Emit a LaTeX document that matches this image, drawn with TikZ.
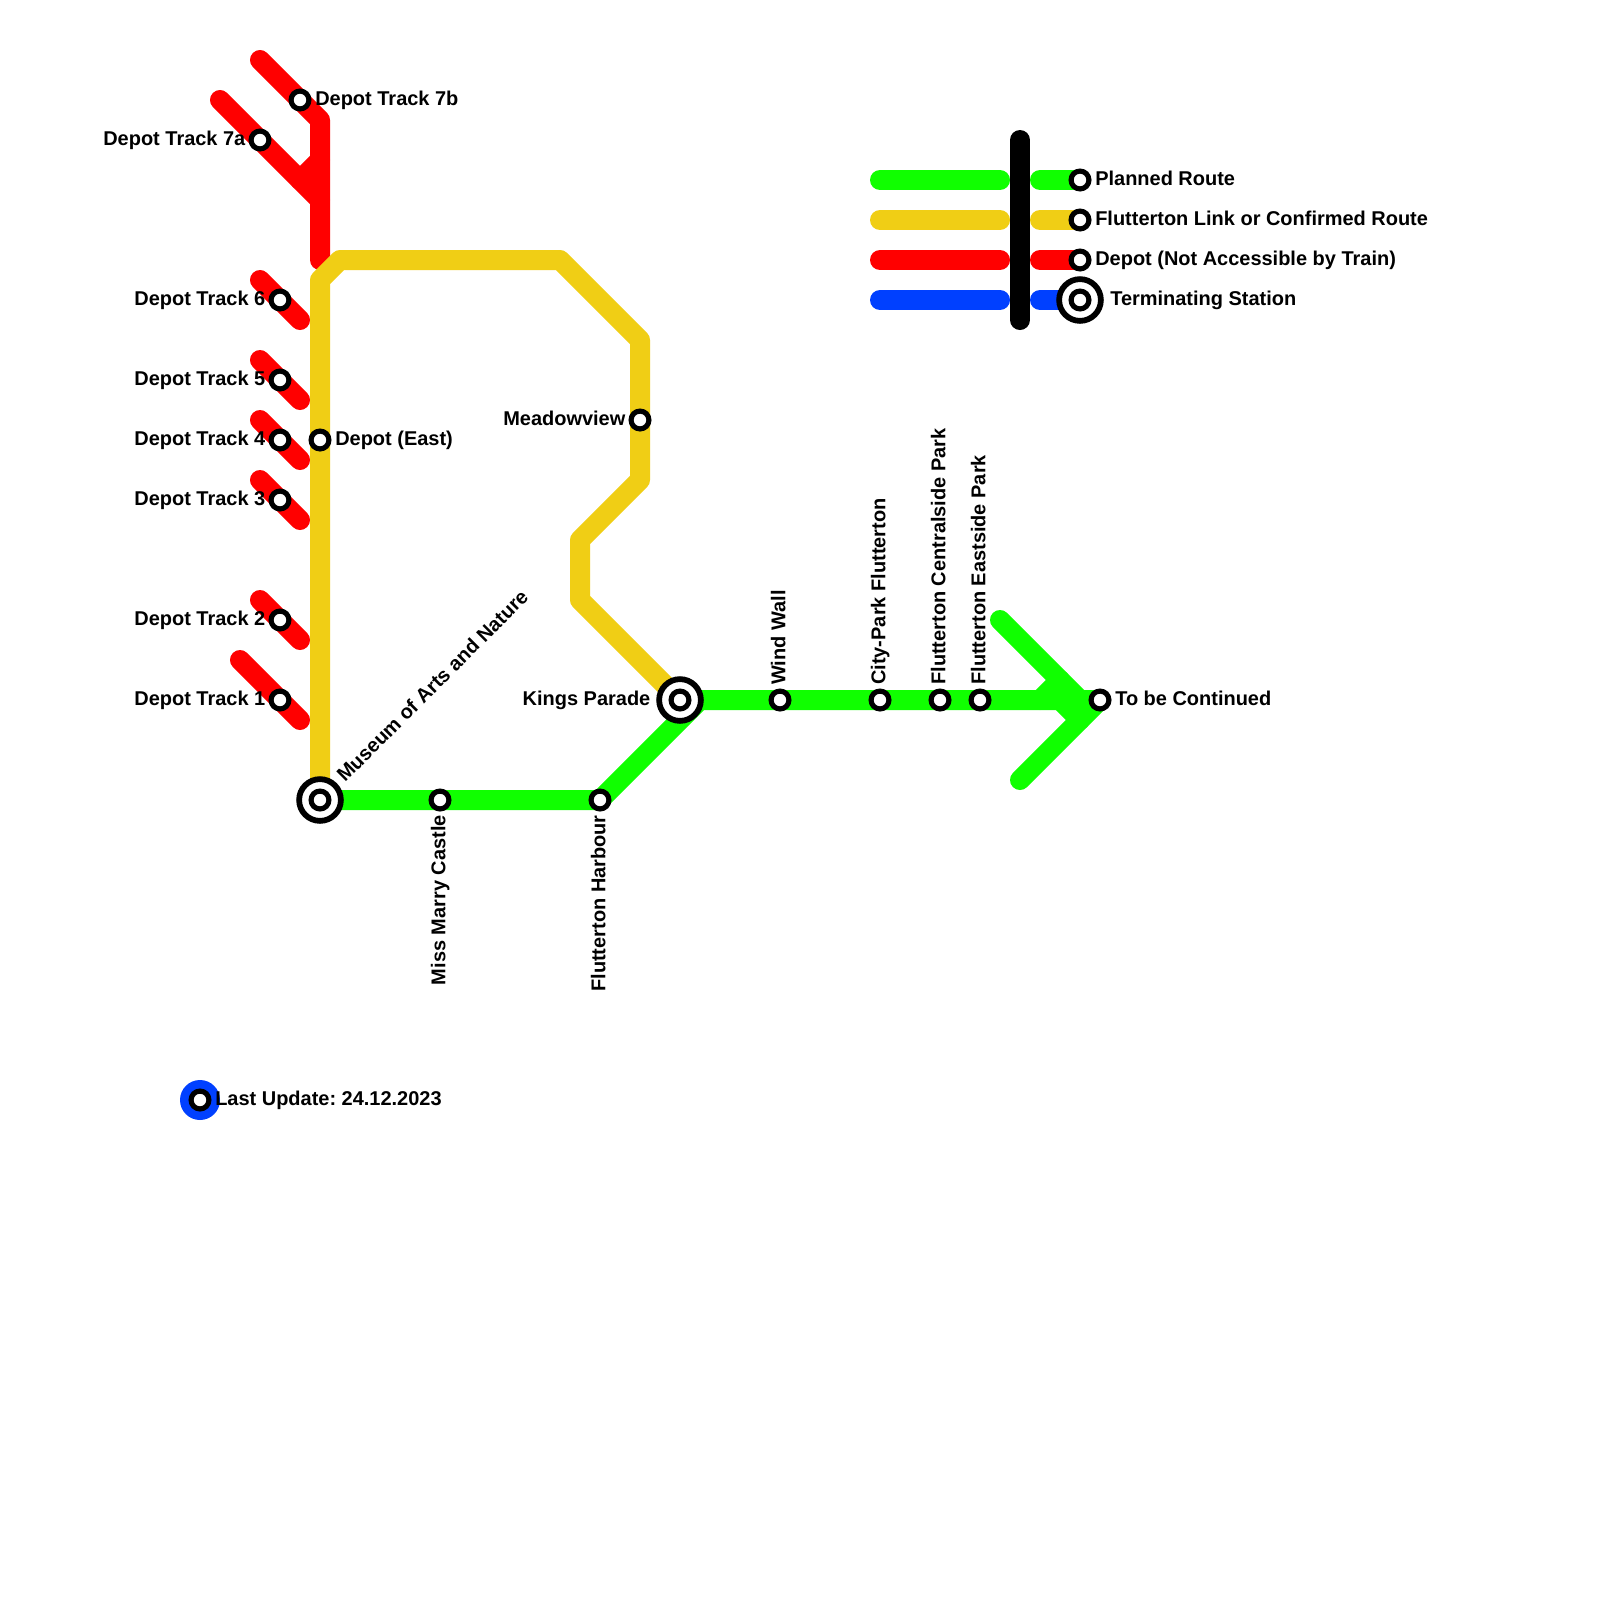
\documentclass[tikz,border=0pt]{standalone}
\usepackage{fontspec}
\setmainfont{Liberation Sans}
\usepackage{xcolor}
\usetikzlibrary{backgrounds}
\definecolor{plangreen}{HTML}{10FF00}
\definecolor{linkyellow}{HTML}{F0CE15}
\definecolor{depotred}{HTML}{FF0000}
\definecolor{termblue}{HTML}{0040FF}

\begin{document}
\begin{tikzpicture}[
  x=0.5cm, y=-0.5cm,
  font=\bfseries\frenchspacing\fontsize{14.2}{17}\selectfont,
  stn/.style={circle, draw=black, fill=white, line width=3.65pt, minimum size=12.7pt, inner sep=0pt},
  term/.style={circle, draw=black, fill=white, line width=4.1pt, minimum size=29.7pt, inner sep=0pt},
  route/.style={line width=0.5cm, line cap=round, line join=round},
  green/.style={route, draw=plangreen},
  yellow/.style={route, draw=linkyellow},
  red/.style={route, draw=depotred},
  blue/.style={route, draw=termblue},
  lblr/.style={anchor=base west, inner sep=0pt},
  lbll/.style={anchor=base east, inner sep=0pt},
]
% depot stations
\node[stn] (dt7b) at (15,5) {};
\node[stn] (dt7a) at (13,7) {};
\node[stn] (dt6) at (14,15) {};
\node[stn] (dt5) at (14,19) {};
\node[stn] (dt4) at (14,22) {};
\node[stn] (dt3) at (14,25) {};
\node[stn] (dt2) at (14,31) {};
\node[stn] (dt1) at (14,35) {};
% main stations
\node[stn] (east) at (16,22) {};
\node[term] (museum) at (16,40) {};
\node[stn] (museumin) at (16,40) {};
\node[stn] (castle) at (22,40) {};
\node[stn] (harbour) at (30,40) {};
\node[term] (kings) at (34,35) {};
\node[stn] (kingsin) at (34,35) {};
\node[stn] (meadow) at (32,21) {};
\node[stn] (wind) at (39,35) {};
\node[stn] (city) at (44,35) {};
\node[stn] (central) at (47,35) {};
\node[stn] (eastside) at (49,35) {};
\node[stn] (cont) at (55,35) {};
% legend stations
\node[stn] (legg) at (54,9) {};
\node[stn] (legy) at (54,11) {};
\node[stn] (legr) at (54,13) {};
\node[term] (legb) at (54,15) {};
\node[stn] (legbin) at (54,15) {};
% update dot
\node[circle, fill=termblue, minimum size=1cm, inner sep=0pt] (dot) at (10,55) {};
\node[stn] (dotin) at (10,55) {};
% free ends and corners
\coordinate (r7bs) at (13,3);
\coordinate (r7bc) at (16,6);
\coordinate (rend) at (16,13);
\coordinate (r7as) at (11,5);
\coordinate (r7ae) at (16,10);
\coordinate (r7aj) at (15,9);
\coordinate (r7au) at (16,8);
\coordinate (r6s) at (13,14);
\coordinate (r6e) at (15,16);
\coordinate (r5s) at (13,18);
\coordinate (r5e) at (15,20);
\coordinate (r4s) at (13,21);
\coordinate (r4e) at (15,23);
\coordinate (r3s) at (13,24);
\coordinate (r3e) at (15,26);
\coordinate (r2s) at (13,30);
\coordinate (r2e) at (15,32);
\coordinate (r1s) at (12,33);
\coordinate (r1e) at (15,36);
\coordinate (gcorner) at (35,35);
\coordinate (as) at (50,31);
\coordinate (aj) at (54,35);
\coordinate (bs) at (51,39);
\coordinate (nu1) at (53,34);
\coordinate (nu2) at (52,35);
\coordinate (nd1) at (53,35);
\coordinate (nd2) at (54,36);
% legend ends
\coordinate (lg1) at (44,9);
\coordinate (lg2) at (50,9);
\coordinate (lg3) at (52,9);
\coordinate (ly1) at (44,11);
\coordinate (ly2) at (50,11);
\coordinate (ly3) at (52,11);
\coordinate (lr1) at (44,13);
\coordinate (lr2) at (50,13);
\coordinate (lr3) at (52,13);
\coordinate (lb1) at (44,15);
\coordinate (lb2) at (50,15);
\coordinate (lb3) at (52,15);
\coordinate (bart) at (51,7);
\coordinate (barb) at (51,16);
% routes
\begin{scope}[on background layer]
\path[fill=white] (0,0) rectangle (80,80);
\draw[red] (r7bs) -- (dt7b.center) -- (r7bc) -- (rend);
\draw[red] (r7as) -- (dt7a.center) -- (r7ae);
\draw[red] (r7aj) -- (r7au);
\draw[red] (r6s) -- (r6e);
\draw[red] (r5s) -- (r5e);
\draw[red] (r4s) -- (r4e);
\draw[red] (r3s) -- (r3e);
\draw[red] (r2s) -- (r2e);
\draw[red] (r1s) -- (r1e);
\draw[yellow] (museum.center) -- (16,14) -- (17,13) -- (28,13) -- (32,17) -- (meadow.center) -- (32,24) -- (29,27) -- (29,30) -- (kings.center);
\draw[green] (museum.center) -- (harbour.center) -- (gcorner) -- (cont.center);
\draw[green] (as) -- (aj);
\draw[green] (bs) -- (cont.center);
\draw[green] (nu1) -- (nu2);
\draw[green] (nd1) -- (nd2);
% legend
\draw[green] (lg1) -- (lg2);
\draw[green] (lg3) -- (legg.center);
\draw[yellow] (ly1) -- (ly2);
\draw[yellow] (ly3) -- (legy.center);
\draw[red] (lr1) -- (lr2);
\draw[red] (lr3) -- (legr.center);
\draw[blue] (lb1) -- (lb2);
\draw[blue] (lb3) -- (legb.center);
\draw[route, draw=black] (bart) -- (barb);
\end{scope}
% labels
\node[lblr] (l7b) at (15.75,5.25) {Depot Track 7b};
\node[lbll] (l7a) at (12.28,7.25) {Depot Track 7a};
\node[lbll] (l6) at (13.28,15.25) {Depot Track 6};
\node[lbll] (l5) at (13.28,19.25) {Depot Track 5};
\node[lbll] (l4) at (13.28,22.25) {Depot Track 4};
\node[lbll] (l3) at (13.28,25.25) {Depot Track 3};
\node[lbll] (l2) at (13.28,31.25) {Depot Track 2};
\node[lbll] (l1) at (13.28,35.25) {Depot Track 1};
\node[lblr] (least) at (16.75,22.25) {Depot (East)};
\node[lbll] (lmeadow) at (31.28,21.25) {Meadowview};
\node[lbll] (lkings) at (32.53,35.25) {Kings Parade};
\node[lblr] (lcont) at (55.75,35.25) {To be Continued};
\node[lblr, rotate=45] (lmuseum) at (17.25,39.15) {Museum of Arts and Nature};
\node[lbll, rotate=90] (lcastle) at (22.27,40.75) {Miss Marry Castle};
\node[lbll, rotate=90] (lharbour) at (30.27,40.75) {Flutterton Harbour};
\node[lblr, rotate=90] (lwind) at (39.27,34.25) {Wind Wall};
\node[lblr, rotate=90] (lcity) at (44.27,34.25) {City-Park Flutterton};
\node[lblr, rotate=90] (lcentral) at (47.27,34.25) {Flutterton Centralside Park};
\node[lblr, rotate=90] (leastside) at (49.27,34.25) {Flutterton Eastside Park};
\node[lblr] (lplan) at (54.75,9.25) {Planned Route};
\node[lblr] (llink) at (54.75,11.25) {Flutterton Link or Confirmed Route};
\node[lblr] (ldepot) at (54.75,13.25) {Depot (Not Accessible by Train)};
\node[lblr] (lterm) at (55.5,15.25) {Terminating Station};
\node[lblr] (lupdate) at (10.75,55.25) {Last Update: 24.12.2023};
\end{tikzpicture}
\end{document}
